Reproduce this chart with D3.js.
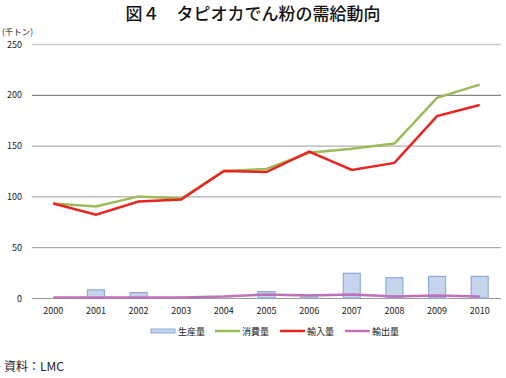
<!DOCTYPE html>
<html lang="ja">
<head>
<meta charset="UTF-8">
<script src="https://d3js.org/d3.v7.min.js"></script>
<style>
  body { margin: 0; background: #fff; }
  text { font-family: "Noto Sans CJK JP", "Noto Sans", sans-serif; }
</style>
</head>
<body>
<svg id="chart" width="506" height="378"></svg>
<script>
const years = ["2000","2001","2002","2003","2004","2005","2006","2007","2008","2009","2010"];
const production = [0, 8, 5.3, 0, 0, 6.3, 3, 24.3, 20, 21.3, 21.3];
const consumption = [93, 90, 100, 98, 125, 127, 143, 147, 152, 197, 210];
const imports = [93, 82, 95, 97, 125, 124, 144, 126, 133, 179, 190];
const exportsQ = [0.5, 0.5, 0.5, 0.5, 1.5, 3.5, 2.5, 3.5, 1.5, 2.5, 1.5];
const yTicks = [0, 50, 100, 150, 200, 250];
const legendNames = ["生産量", "消費量", "輸入量", "輸出量"];

const svg = d3.select("#chart");
const plotL = 32, plotR = 501, plotT = 44, plotB = 298;

var x = d3.scaleBand().domain(years).range([plotL, plotR]);
var y = d3.scaleLinear().domain([0, 250]).range([plotB, plotT]);

// title
svg.append("text").attr("x", 253).attr("y", 20).attr("text-anchor", "middle")
  .attr("font-size", 17).attr("font-weight", 500).attr("fill", "#111")
  .text("図４　タピオカでん粉の需給動向");
svg.append("text").attr("x", 2).attr("y", 35).attr("font-size", 8.5).attr("fill", "#222").text("(千トン)");

// grid
svg.append("g").selectAll("line").data(yTicks).enter().append("line")
  .attr("x1", plotL).attr("x2", plotR)
  .attr("y1", d => y(d) + 0.5).attr("y2", d => y(d) + 0.5)
  .attr("stroke", d => d == 250 ? "#ccc" : (d == 200 ? "#666" : "#999"))
  .attr("stroke-width", d => d == 250 ? 1.5 : 1);

svg.append("g").selectAll("text").data(yTicks).enter().append("text")
  .attr("x", 22).attr("y", d => y(d) + 3.5).attr("text-anchor", "end")
  .attr("font-size", 9).attr("fill", "#222").text(d => d);

svg.append("g").selectAll("text").data(years).enter().append("text")
  .attr("x", d => x(d) + x.bandwidth() / 2).attr("y", 314).attr("text-anchor", "middle")
  .attr("font-size", 9).attr("fill", "#222").text(d => d);

// bars (skip zero years)
const bw = 17;
const barData = production.map((v, i) => ({ year: years[i], v: v })).filter(d => d.v > 0);
svg.append("g").selectAll("rect").data(barData).enter().append("rect")
  .attr("x", d => x(d.year) + x.bandwidth() / 2 - bw / 2)
  .attr("y", d => y(d.v)).attr("width", bw).attr("height", d => plotB - y(d.v))
  .attr("fill", "#c6d5ec").attr("stroke", "#8eaadb").attr("stroke-width", 1.2);

var line = d3.line().x((d, i) => x(years[i]) + x.bandwidth() / 2).y(d => y(d));
const series = [[consumption, "#9bbb59"], [imports, "#e8251f"], [exportsQ, "#c070b8"]];
series.forEach(s => {
  svg.append("path").datum(s[0]).attr("d", line).attr("fill", "none")
    .attr("stroke", s[1]).attr("stroke-width", 2.5).attr("stroke-linejoin", "miter");
});

// legend
const lx = [151, 215, 280, 345];
const lcol = ["#c6d5ec", "#9bbb59", "#e8251f", "#c070b8"];
const lg = svg.append("g");
legendNames.forEach((n, i) => {
  if (i == 0) {
    lg.append("rect").attr("x", lx[i]).attr("y", 329).attr("width", 24).attr("height", 4)
      .attr("fill", lcol[0]).attr("stroke", "#8eaadb").attr("stroke-width", 1);
  } else {
    lg.append("line").attr("x1", lx[i]).attr("x2", lx[i] + 25).attr("y1", 331).attr("y2", 331)
      .attr("stroke", lcol[i]).attr("stroke-width", 2.5);
  }
  lg.append("text").attr("x", lx[i] + 27).attr("y", 334.5).attr("font-size", 9).attr("fill", "#222").text(n);
});

svg.append("text").attr("x", 4).attr("y", 371).attr("font-size", 12).attr("fill", "#222").text("資料：LMC");
</script>
</body>
</html>
